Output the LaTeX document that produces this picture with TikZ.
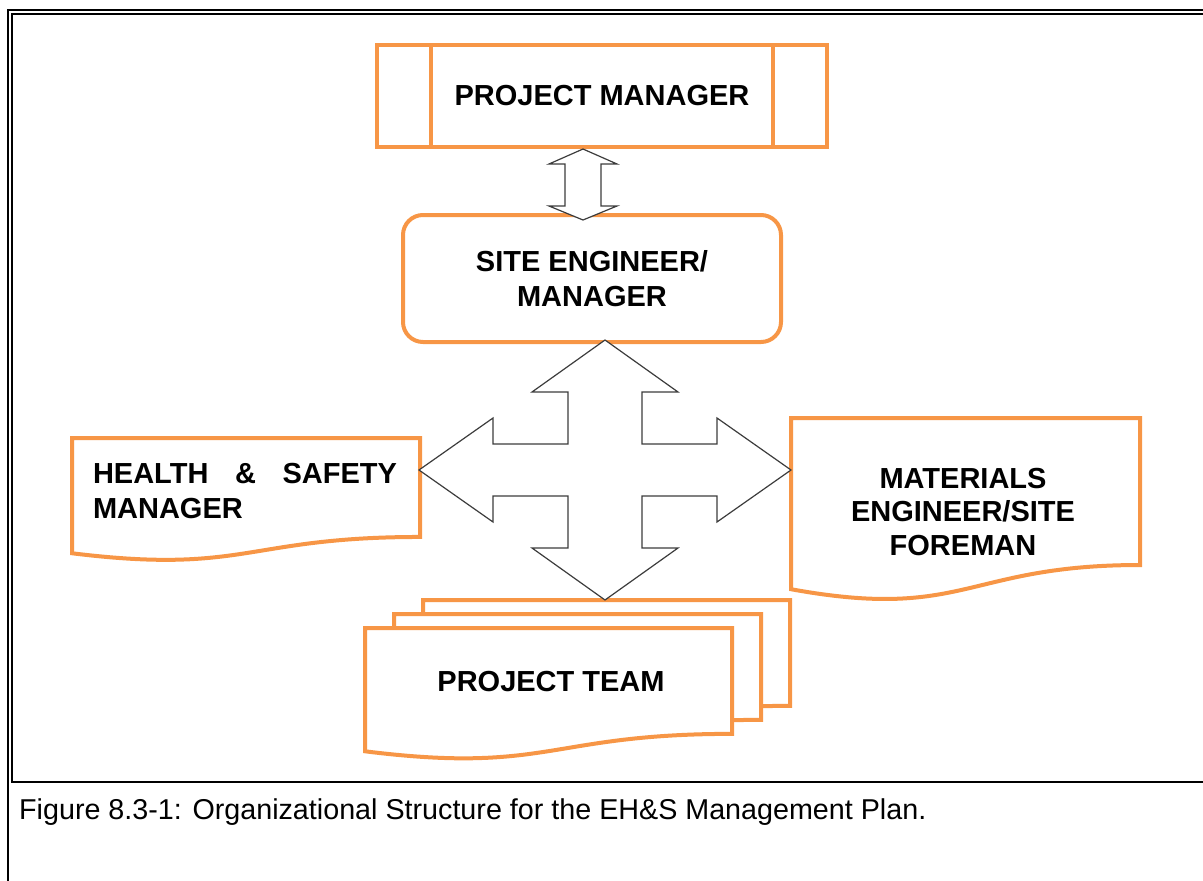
\documentclass[tikz,border=0pt]{standalone}
\usepackage{fontspec}
\setmainfont{Liberation Sans}
\usetikzlibrary{positioning,calc}
\definecolor{boxorange}{RGB}{247,150,70}
\definecolor{arrowgray}{RGB}{60,60,60}
\tikzset{
  orangeline/.style={draw=boxorange, line width=4pt},
  blockarrow/.style={draw=arrowgray, line width=1.2pt, fill=white, line join=miter},
  label/.style={font=\fontsize{29}{35}\selectfont\bfseries, inner sep=0pt, align=center},
}
\newcommand{\docpath}[4]{%
  \draw[orangeline, fill=white] (#1,#2) -- ({#1+#3},#2) -- ({#1+#3},{#2+0.802*#4})
    .. controls ({#1+0.5*#3},{#2+0.802*#4}) and ({#1+0.5*#3},{#2+1.1075*#4}) .. (#1,{#2+0.934*#4}) -- cycle;}
\begin{document}
\begin{tikzpicture}[x=1pt, y=-1pt]
    \useasboundingbox (0,0) rectangle (1203,881);
    \draw [line width=2] (8.4,881) -- (8.4,10) -- (1203,10);
    \draw [line width=1.5] (1203,14) -- (12,14) -- (12,782);
    \draw [line width=2.5] (11.3,782) -- (1203,782);

    \node [orangeline, minimum width=450, minimum height=102, label] (pm) at (602,96) {PROJECT MANAGER};
    \draw [orangeline] ($(pm.north west)+(56,0)$) -- ($(pm.south west)+(56,0)$);
    \draw [orangeline] ($(pm.north east)+(-56,0)$) -- ($(pm.south east)+(-56,0)$);

    \node [orangeline, rounded corners=20, minimum width=378, minimum height=127, label] (se) at (592,278.5) {SITE ENGINEER/\\MANAGER};

    \coordinate (pmtip) at ($(pm.south)+(-19,0)$);
    \draw [blockarrow] (pmtip) -- ++(34,15) -- ++(-16,0) -- ++(0,42) -- ++(16,0) -- ++(-34,14)
        -- ++(-34,-14) -- ++(16,0) -- ++(0,-42) -- ++(-16,0) -- cycle;

    \docpath{72}{438}{348}{123.4}
    \node [label, text width=304, align=left] (hs) at (245,491) {HEALTH\hfill\&\hfill SAFETY\\MANAGER};

    \docpath{791}{418}{349}{183.3}
    \node [label, font=\fontsize{29}{33.5}\selectfont\bfseries] (mat) at (963,512) {MATERIALS\\ENGINEER/SITE\\FOREMAN};

    \docpath{423}{600}{367}{132}
    \docpath{394}{614}{367}{132}
    \docpath{365}{628}{367}{132}
    \node [label] (team) at (551,682) {PROJECT TEAM};

    \coordinate (hub) at (605,470);
    \draw [blockarrow, shift={(hub)}] (0,-130) -- (73,-78) -- (37,-78) -- (37,-26) -- (112,-26) -- (112,-52)
        -- (186,0) -- (112,52) -- (112,26) -- (37,26) -- (37,78) -- (73,78) -- (0,130) -- (-73,78)
        -- (-37,78) -- (-37,26) -- (-112,26) -- (-112,52) -- (-186,0) -- (-112,-52) -- (-112,-26)
        -- (-37,-26) -- (-37,-78) -- (-73,-78) -- cycle;

    \node [anchor=base west, inner sep=0pt, font=\fontsize{28.7}{34}\selectfont] (cap) at (19,819) {Figure 8.3-1: Organizational Structure for the EH\&S Management Plan.};
\end{tikzpicture}
\end{document}
